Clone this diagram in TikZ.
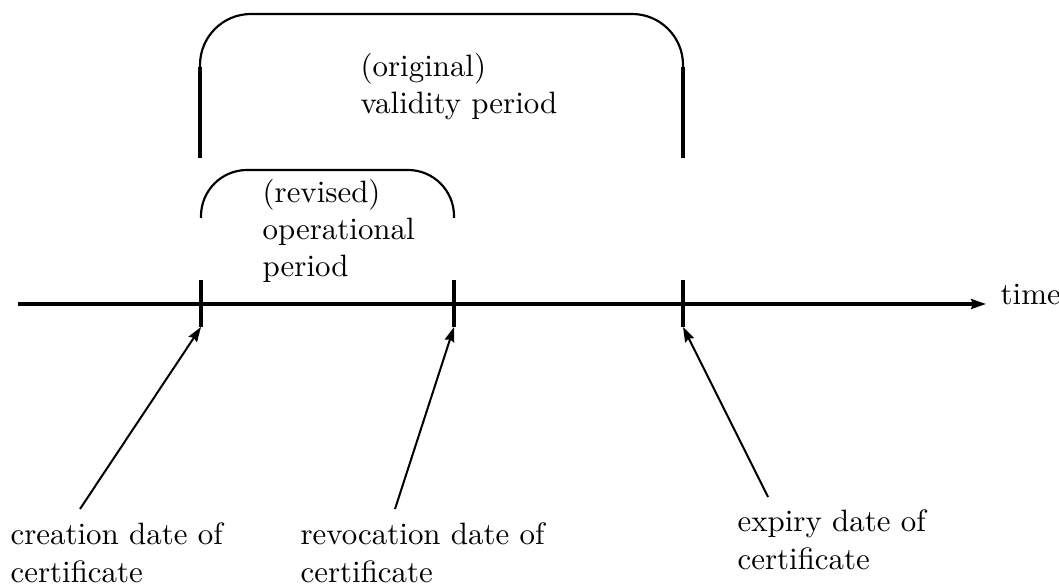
\documentclass[tikz,border=0pt]{standalone}
\usetikzlibrary{arrows.meta}
\begin{document}
\begin{tikzpicture}[x=0.3236pt,y=-0.3236pt,
  axisline/.style={line width=1pt,-{Stealth[length=4.8pt,width=3.2pt,inset=0.6pt]}},
  tickline/.style={line width=1pt},
  braceline/.style={line width=0.7pt},
  pointer/.style={line width=0.65pt,-{Stealth[length=4.8pt,width=3.2pt,inset=0.6pt]}},
  lbl/.style={inner sep=0pt,anchor=base west,align=left,font=\fontsize{10}{12}\selectfont}]
  % page frame
  \useasboundingbox (0,0) rectangle (1059,585);

  % time axis
  \coordinate (t0) at (18,304);
  \node[lbl] (time) at (1000,305) {time};
  \coordinate (t1) at (986,304);
  \draw[axisline] (t0) -- (t1);

  % ticks on the axis
  \coordinate (a1) at (201,280); \coordinate (c1) at (201,327);
  \coordinate (a2) at (454,280); \coordinate (c2) at (454,327);
  \coordinate (a3) at (683,280); \coordinate (c3) at (683,327);
  \draw[tickline] (a1) -- (c1);
  \draw[tickline] (a2) -- (c2);
  \draw[tickline] (a3) -- (c3);

  % original validity period
  \coordinate (o1) at (200,158); \coordinate (o2) at (200,14);
  \coordinate (o3) at (683,14);  \coordinate (o4) at (683,158);
  \draw[braceline,rounded corners=16.5pt] (o1) -- (o2) -- (o3) -- (o4);
  \draw[tickline] (200,158) -- (200,67);
  \draw[tickline] (683,158) -- (683,67);
  \node[lbl] (valid) at (360,114) {(original)\\validity period};

  % revised operational period
  \coordinate (r1) at (201,218); \coordinate (r2) at (201,170);
  \coordinate (r3) at (454,170); \coordinate (r4) at (454,218);
  \draw[braceline,rounded corners=14.9pt] (r1) -- (r2) -- (r3) -- (r4);
  \node[lbl] (oper) at (262,277) {(revised)\\operational\\period};

  % dates pointing at the ticks
  \node[lbl] (creation) at (10,582) {creation date of\\certificate};
  \node[lbl] (revocation) at (300,582) {revocation date of\\certificate};
  \node[lbl] (expiry) at (737,569) {expiry date of\\certificate};
  \coordinate (p1) at (80,509);
  \coordinate (p2) at (395,509);
  \coordinate (p3) at (768,497);
  \draw[pointer] (p1) -- (c1);
  \draw[pointer] (p2) -- (c2);
  \draw[pointer] (p3) -- (c3);
\end{tikzpicture}
\end{document}
